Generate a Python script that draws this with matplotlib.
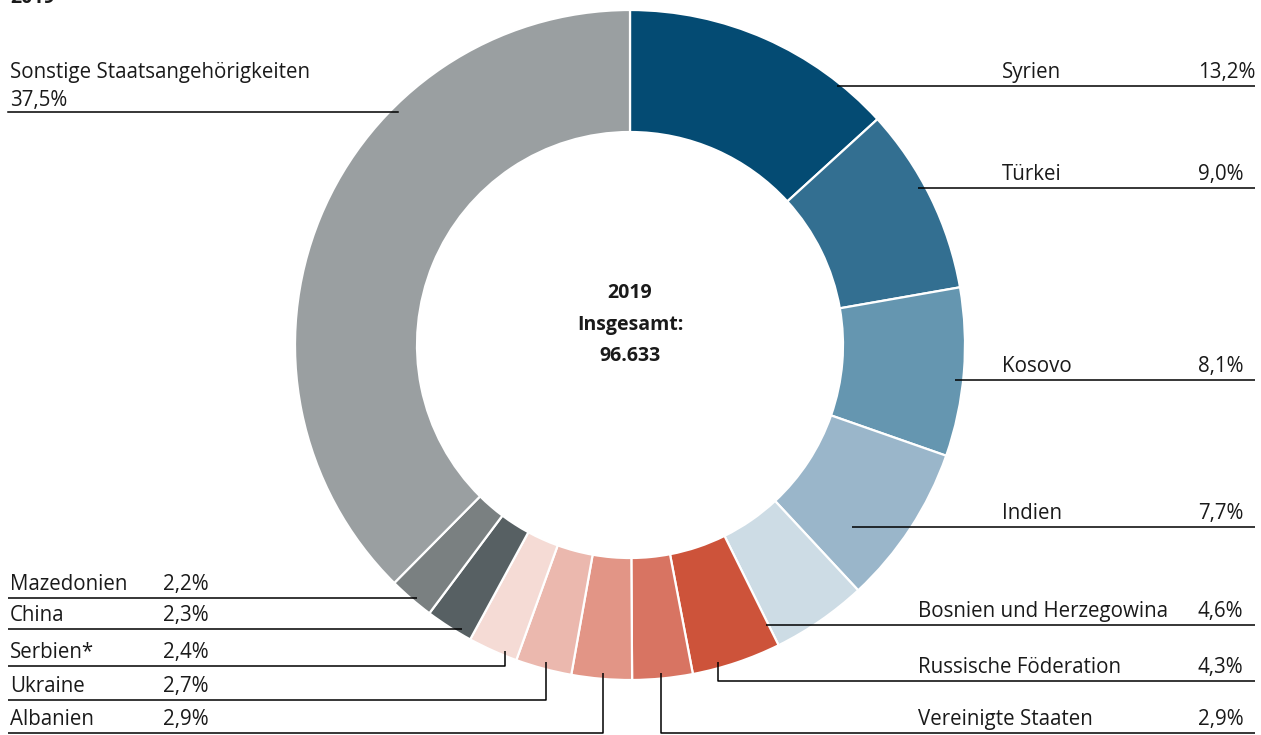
import matplotlib.pyplot as plt

W, H = 1261, 735

# data
countries = ['Syrien', 'Türkei', 'Kosovo', 'Indien', 'Bosnien und Herzegowina',
             'Russische Föderation', 'Vereinigte Staaten', 'Albanien', 'Ukraine',
             'Serbien*', 'China', 'Mazedonien', 'Sonstige Staatsangehörigkeiten']
shares = [13.2, 9.0, 8.1, 7.7, 4.6, 4.3, 2.9, 2.9, 2.7, 2.4, 2.3, 2.2, 37.5]
colors = ['#044b73', '#336f91', '#6596b0', '#9ab6ca', '#cddce5',
          '#cd533a', '#d87462', '#e29586', '#ebb8ae', '#f5dbd5',
          '#576063', '#7a8081', '#9a9fa1']
year = '2019'
total = '96.633'

# label layout in pixels (y downwards): side, line y, anchor x, anchor top y, name x
layout = {
    'Syrien': ('r', 86, 837, None, 1002),
    'Türkei': ('r', 188, 918, None, 1002),
    'Kosovo': ('r', 380, 955, None, 1002),
    'Indien': ('r', 527, 852, None, 1002),
    'Bosnien und Herzegowina': ('r', 625, 766, None, 918),
    'Russische Föderation': ('r', 681, 718, 662, 918),
    'Vereinigte Staaten': ('r', 733, 661, 673, 918),
    'Albanien': ('l', 733, 603, 673, 10),
    'Ukraine': ('l', 700, 546, 662, 10),
    'Serbien*': ('l', 666, 505, 651, 10),
    'China': ('l', 629, 462, None, 10),
    'Mazedonien': ('l', 598, 417, None, 10),
}

plt.rcParams['font.family'] = ['Open Sans', 'DejaVu Sans']
txt = '#1a1a1a'
fs = 14.8

fig = plt.figure(figsize=(W / 100, H / 100), dpi=100)
ax = fig.add_axes([0, 0, 1, 1])

cx, cy, r_out, r_in = 630, 345, 335, 213
# y axis is inverted, so start at -90 and go "counterclock" to look clockwise from the top
ax.pie(shares, colors=colors, startangle=-90, counterclock=True,
       center=(cx, cy), radius=r_out,
       wedgeprops=dict(width=r_out - r_in, edgecolor='white', linewidth=1.6))
ax.set_xlim(0, W)
ax.set_ylim(H, 0)
ax.set_aspect('auto')
ax.axis('off')

# centre text
for t, y in zip([year, 'Insgesamt:', total], [293, 325, 356]):
    ax.text(cx, y, t, ha='center', va='center', fontsize=14, fontweight='bold', color=txt)

# heading, cut off at the top edge as in the original
ax.text(10, 3, year, ha='left', va='baseline', fontsize=14, fontweight='bold', color=txt)

lw = 1.1
for name, val in zip(countries, shares):
    pct = f'{val:.1f}%'.replace('.', ',')
    if name not in layout:
        continue
    side, ly, axx, ay, nx = layout[name]
    if side == 'r':
        xs, ys = [axx, 1255], [ly, ly]
        px = 1198
    else:
        xs, ys = [8, axx], [ly, ly]
        px = 163
    if ay is not None:
        if side == 'r':
            xs, ys = [axx] + xs, [ay] + ys
        else:
            xs, ys = xs + [axx], ys + [ay]
    ax.plot(xs, ys, color='black', lw=lw, solid_capstyle='butt')
    ax.text(nx, ly - 8, name, ha='left', va='baseline', fontsize=fs, color=txt)
    ax.text(px, ly - 8, pct, ha='left', va='baseline', fontsize=fs, color=txt)

# Sonstige: two-line label at top left
ax.plot([8, 398], [112, 112], color='black', lw=lw)
ax.text(10, 78, countries[-1], ha='left', va='baseline', fontsize=fs, color=txt)
ax.text(10, 106, f'{shares[-1]:.1f}%'.replace('.', ','), ha='left', va='baseline',
        fontsize=fs, color=txt)

fig.savefig('out.png', dpi=100)
